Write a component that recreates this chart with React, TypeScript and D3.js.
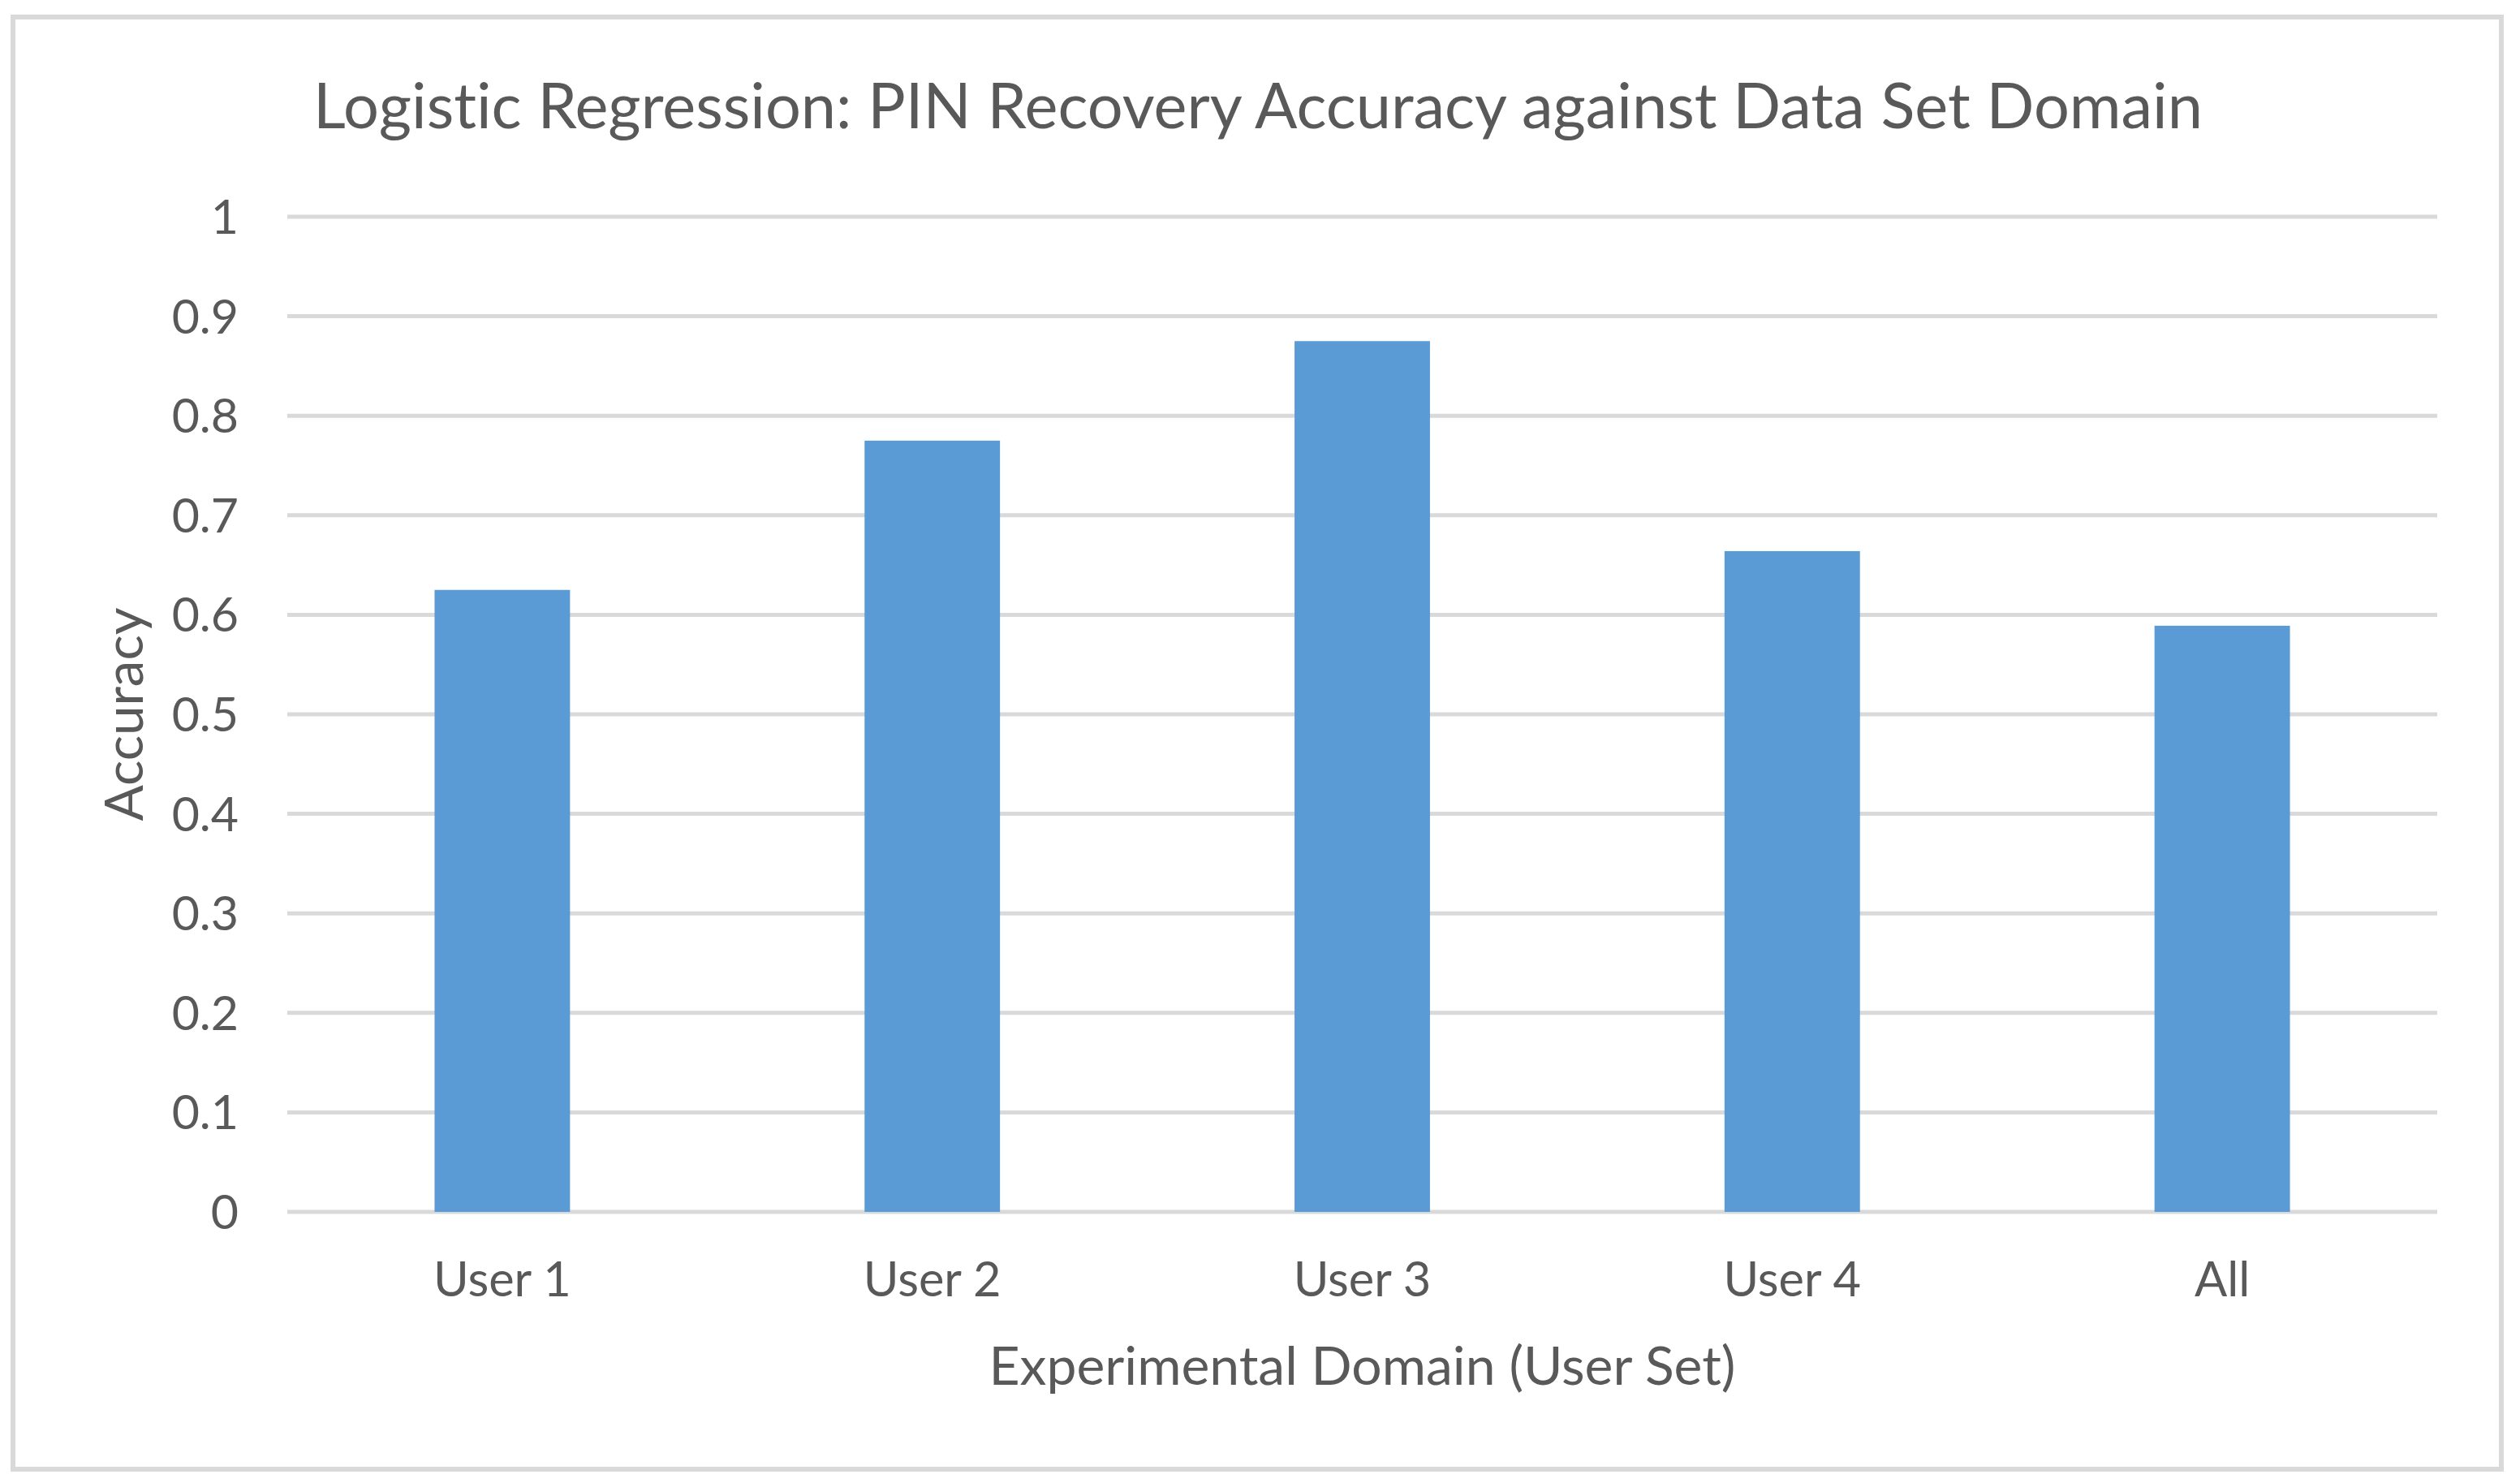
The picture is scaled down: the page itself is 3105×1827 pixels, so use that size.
import * as d3 from "d3";

const categories = ["User 1", "User 2", "User 3", "User 4", "All"];
const accuracy = [0.625, 0.775, 0.875, 0.664, 0.589];
const yTicks = [0, 0.1, 0.2, 0.3, 0.4, 0.5, 0.6, 0.7, 0.8, 0.9, 1];
const yTickLabels = ["0", "0.1", "0.2", "0.3", "0.4", "0.5", "0.6", "0.7", "0.8", "0.9", "1"];

const WIDTH = 3105;
const HEIGHT = 1827;
const MARGIN = { top: 267, right: 102, bottom: 334, left: 354 };
const FONT = "Lato, 'Open Sans', sans-serif";
const TEXT = "#595959";
const NO_LIGA = { fontVariantLigatures: "none" as const };

function BarChart() {
  const boundsWidth = WIDTH - MARGIN.left - MARGIN.right;
  const boundsHeight = HEIGHT - MARGIN.top - MARGIN.bottom;

  const xScale = d3.scaleBand<string>()
    .domain(categories)
    .range([0, boundsWidth])
    .paddingInner(0.685)
    .paddingOuter(0.3425);

  const yScale = d3.scaleLinear()
    .domain([0, 1])
    .range([boundsHeight, 0]);

  return (
    <svg width={WIDTH} height={HEIGHT} style={{ position: "absolute", left: 0, top: 0, background: "#fff" }}>
      {/* chart border */}
      <rect x={16} y={21} width={3066} height={1789} fill="#fff" stroke="#d9d9d9" strokeWidth={6} />

      <text x={1550} y={158} textAnchor="middle" fontFamily={FONT} fontSize={77.5} fill={TEXT} style={NO_LIGA}>
        Logistic Regression: PIN Recovery Accuracy against Data Set Domain
      </text>

      <g transform={`translate(${MARGIN.left},${MARGIN.top})`}>
        {yTicks.map((t, i) => (
          <g key={i}>
            <line x1={0} x2={boundsWidth} y1={yScale(t)} y2={yScale(t)} stroke="#d9d9d9" strokeWidth={5} />
            <text x={-60} y={yScale(t)} dy={21} textAnchor="end" fontFamily={FONT} fontSize={59} fill={TEXT}>
              {yTickLabels[i]}
            </text>
          </g>
        ))}

        {categories.map((c, i) => (
          <rect
            key={c}
            x={xScale(c)}
            y={yScale(accuracy[i])}
            width={xScale.bandwidth()}
            height={boundsHeight - yScale(accuracy[i])}
            fill="#5b9bd5"
          />
        ))}

        {categories.map((c) => (
          <text
            key={c}
            x={(xScale(c) ?? 0) + xScale.bandwidth() / 2}
            y={boundsHeight + 104}
            textAnchor="middle"
            fontFamily={FONT}
            fontSize={59.5}
            fill={TEXT}
          >
            {c}
          </text>
        ))}

        <text
          x={boundsWidth / 2}
          y={boundsHeight + 213}
          textAnchor="middle"
          fontFamily={FONT}
          fontSize={66}
          fill={TEXT}
        >
          Experimental Domain (User Set)
        </text>
      </g>

      <text
        transform={`translate(176,${MARGIN.top + boundsHeight / 2}) rotate(-90)`}
        textAnchor="middle"
        fontFamily={FONT}
        fontSize={65.5}
        fill={TEXT}
      >
        Accuracy
      </text>
    </svg>
  );
}

export default function App() {
  return <BarChart />;
}
